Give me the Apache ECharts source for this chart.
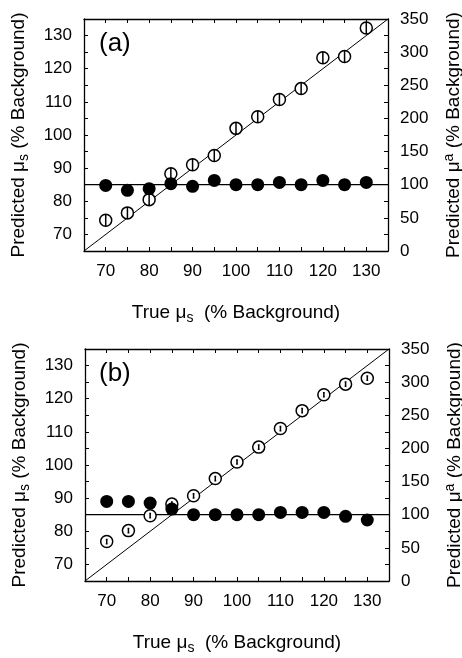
<!DOCTYPE html>
<html>
<head>
<meta charset="utf-8">
<script src="https://cdn.jsdelivr.net/npm/echarts@6/dist/echarts.min.js"></script>
<style>html,body{margin:0;padding:0;background:#fff;}#c{width:462px;height:658px;}</style>
</head>
<body>
<div id="c"></div>
<script>
// True mu_s (% background)
var trueMuS = [70, 75, 80, 85, 90, 95, 100, 105, 110, 115, 120, 125, 130];
// Panel (a)
var predMuS_a = [74.3, 76.5, 80.5, 88.3, 91.0, 93.8, 102.0, 105.5, 110.7, 114.0, 123.3, 123.7, 132.3];
var predMuA_a = [99, 91.5, 94, 101.5, 97.5, 106.5, 100, 100, 103.5, 100, 106.5, 100, 103.5];
// Panel (b)
var predMuS_b = [76.9, 80.2, 84.7, 88.2, 90.7, 95.9, 100.9, 105.4, 111.0, 116.4, 121.2, 124.4, 126.2];
var predMuA_b = [120, 120, 117.5, 108.5, 100, 100, 100, 100, 103.5, 103.5, 103.5, 97.5, 92];
// Reference lines
var identityLine = [[65, 65], [135, 135]];
var muAReference = [[65, 100], [135, 100]];
var panelLabels = ['(a)', '(b)'];
var xTicks = [70, 80, 90, 100, 110, 120, 130];
var leftTicks = [70, 80, 90, 100, 110, 120, 130];
var rightTicks = [0, 50, 100, 150, 200, 250, 300, 350];

var FONT = 'Liberation Sans, Arial, Helvetica, sans-serif';
var chart = echarts.init(document.getElementById('c'));

function zip(xs, ys) { return xs.map(function (x, i) { return [x, ys[i]]; }); }

var symA = 'path://M10,0 A10,10 0 1,1 10,20 A10,10 0 1,1 10,0 Z M10,0 L10,20';
var symB = 'path://M10,0 A10,10 0 1,1 10,20 A10,10 0 1,1 10,0 Z M10,6.5 L10,13.5 M8.5,6.5 L11.5,6.5 M8.5,13.5 L11.5,13.5';

var grids = [
  { left: 84, top: 19, width: 304, height: 232, containLabel: false, outerBoundsMode: 'none' },
  { left: 85, top: 349, width: 304, height: 232, containLabel: false, outerBoundsMode: 'none' }
];

var lineStyleAxis = { color: '#000', width: 1.3 };
var nameStyle = {
  fontFamily: FONT, fontSize: 19, color: '#000', lineHeight: 24,
  rich: {
    sub: { fontFamily: FONT, fontSize: 14, color: '#000', verticalAlign: 'bottom', lineHeight: 12 },
    sup: { fontFamily: FONT, fontSize: 14, color: '#000', verticalAlign: 'top', lineHeight: 12 }
  }
};
var labelFont = 17;

var xAxes = [], yAxes = [], series = [];
[0, 1].forEach(function (g) {
  xAxes.push({
    gridIndex: g, type: 'value', min: 65, max: 135, interval: 5, position: 'bottom',
    name: 'True μ{sub|s}  (% Background)', nameLocation: 'middle', nameGap: 50,
    nameTextStyle: nameStyle,
    axisLine: { onZero: false, lineStyle: lineStyleAxis },
    axisTick: { inside: true, length: 4, lineStyle: { color: '#000', width: 1 } },
    axisLabel: {
      fontFamily: FONT, fontSize: labelFont, color: '#000', margin: 12,
      formatter: function (v) { return xTicks.indexOf(v) >= 0 ? String(v) : ''; }
    },
    splitLine: { show: false }
  });
  xAxes.push({
    gridIndex: g, type: 'value', min: 65, max: 135, interval: 5, position: 'top',
    axisLine: { onZero: false, lineStyle: lineStyleAxis },
    axisTick: { inside: true, length: 4, lineStyle: { color: '#000', width: 1 } },
    axisLabel: { show: false }, splitLine: { show: false }
  });
  yAxes.push({
    gridIndex: g, type: 'value', min: 65, max: 135, interval: 5, position: 'left',
    name: 'Predicted μ{sub|s} (% Background)', nameLocation: 'middle', nameGap: 53,
    nameTextStyle: nameStyle,
    axisLine: { onZero: false, lineStyle: lineStyleAxis },
    axisTick: { inside: true, length: 4, lineStyle: { color: '#000', width: 1 } },
    axisLabel: {
      fontFamily: FONT, fontSize: labelFont, color: '#000', margin: 12,
      formatter: function (v) { return leftTicks.indexOf(v) >= 0 ? String(v) : ''; }
    },
    splitLine: { show: false }
  });
  yAxes.push({
    gridIndex: g, type: 'value', min: 0, max: 350, interval: 25, position: 'right',
    name: 'Predicted μ{sup|a} (% Background)', nameLocation: 'middle', nameGap: 54,
    nameTextStyle: nameStyle,
    axisLine: { onZero: false, lineStyle: lineStyleAxis },
    axisTick: { inside: true, length: 4, lineStyle: { color: '#000', width: 1 } },
    axisLabel: {
      fontFamily: FONT, fontSize: labelFont, color: '#000', margin: 12,
      formatter: function (v) { return rightTicks.indexOf(v) >= 0 ? String(v) : ''; }
    },
    splitLine: { show: false }
  });
});

var panels = [
  { s: predMuS_a, a: predMuA_a, sym: symA },
  { s: predMuS_b, a: predMuA_b, sym: symB }
];
panels.forEach(function (p, g) {
  var xi = g * 2, yl = g * 2, yr = g * 2 + 1;
  series.push({
    type: 'line', xAxisIndex: xi, yAxisIndex: yl, data: identityLine, showSymbol: false,
    lineStyle: { color: '#000', width: 1 }, silent: true, z: 1
  });
  series.push({
    type: 'line', xAxisIndex: xi, yAxisIndex: yr, data: muAReference, showSymbol: false,
    lineStyle: { color: '#000', width: 1.2 }, silent: true, z: 1
  });
  series.push({
    type: 'scatter', xAxisIndex: xi, yAxisIndex: yl, data: zip(trueMuS, p.s),
    symbol: p.sym, symbolSize: 12,
    itemStyle: { color: '#fff', borderColor: '#000', borderWidth: 1.5, opacity: 1 }, z: 3
  });
  series.push({
    type: 'scatter', xAxisIndex: xi, yAxisIndex: yr, data: zip(trueMuS, p.a),
    symbol: 'circle', symbolSize: 13,
    itemStyle: { color: '#000', opacity: 1 }, z: 4
  });
});

chart.setOption({
  animation: false,
  backgroundColor: '#fff',
  grid: grids,
  xAxis: xAxes,
  yAxis: yAxes,
  series: series,
  graphic: [
    { type: 'text', left: 99, top: 31, style: { text: panelLabels[0], font: '26px ' + FONT, fill: '#000' } },
    { type: 'text', left: 99, top: 361, style: { text: panelLabels[1], font: '26px ' + FONT, fill: '#000' } }
  ]
});
</script>
</body>
</html>
